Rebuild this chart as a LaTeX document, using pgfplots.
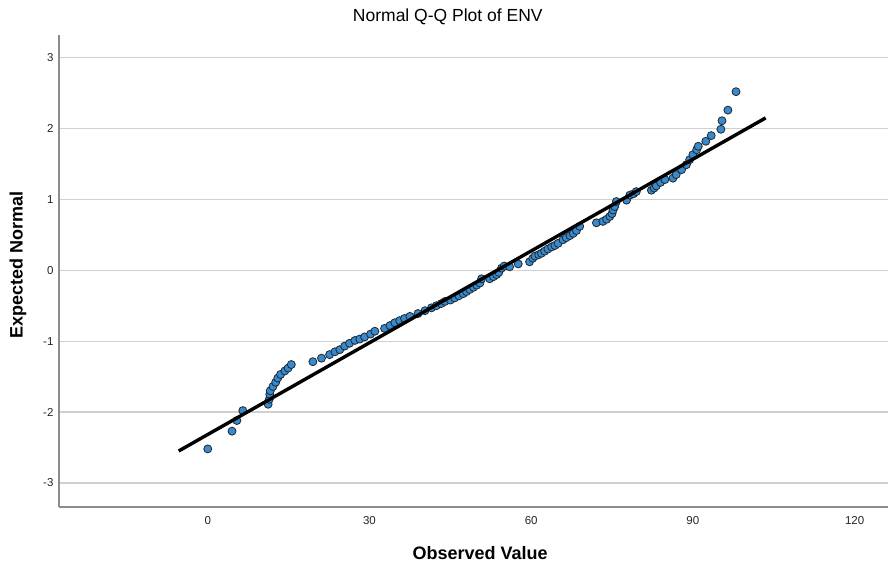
\documentclass[border=0pt]{standalone}
\usepackage{fontspec}
\setmainfont{Liberation Sans}
\usepackage{pgfplots}
\pgfplotsset{compat=1.18}
\definecolor{ptfill}{RGB}{56,138,204}
\definecolor{ptedge}{RGB}{30,38,48}
\definecolor{gridc}{RGB}{208,208,208}
\definecolor{axc}{RGB}{140,140,140}
\begin{document}
\begin{tikzpicture}
\begin{axis}[
  scale only axis,
  width=829pt, height=472pt,
  xmin=-27.6, xmax=126.2,
  ymin=-3.34, ymax=3.32,
  xtick={0,30,60,90,120},
  ytick={-3,-2,-1,0,1,2,3},
  axis x line*=bottom, axis y line*=left,
  axis line style={-, draw=axc, line width=1.4pt},
  major tick length=0pt,
  ymajorgrids,
  grid style={gridc, line width=1.2pt},
  tick label style={font=\fontsize{11.5}{13}\selectfont, text=black!85},
  /pgf/number format/assume math mode=true,
  xticklabel style={yshift=-6pt},
  yticklabel style={xshift=-2pt},
  clip mode=individual,
]
\addplot[only marks, mark=*, mark size=4pt,
  mark options={fill=ptfill, draw=ptedge, line width=0.8pt}] coordinates {
(0,-2.52) (4.5,-2.27) (5.4,-2.12) (6.5,-1.98) (11.2,-1.89) (11.4,-1.82)
(11.5,-1.75) (11.6,-1.70) (12.1,-1.64) (12.6,-1.58) (13.0,-1.52) (13.5,-1.47)
(14.3,-1.42) (14.9,-1.38) (15.5,-1.33) (19.5,-1.29) (21.1,-1.24) (22.6,-1.19)
(23.6,-1.15) (24.5,-1.12) (25.4,-1.07) (26.3,-1.03) (27.3,-0.99) (28.2,-0.97)
(29.1,-0.94) (30.2,-0.90) (31.0,-0.86) (32.8,-0.82) (33.8,-0.78) (34.7,-0.74)
(35.6,-0.71) (36.5,-0.68) (37.5,-0.65) (39.0,-0.61) (40.3,-0.57) (41.5,-0.53)
(42.4,-0.50) (43.3,-0.47) (44.0,-0.44) (45.0,-0.42) (45.8,-0.39) (46.6,-0.36)
(47.4,-0.33) (48.0,-0.30) (48.6,-0.27) (49.3,-0.24) (49.9,-0.21) (50.5,-0.18)
(50.8,-0.12) (52.3,-0.12) (53.0,-0.09) (53.6,-0.06) (54.0,-0.03) (54.5,0.03)
(55.0,0.06) (56.0,0.05) (57.6,0.09) (59.7,0.12) (60.3,0.17) (60.7,0.20)
(61.4,0.22) (61.9,0.24) (62.5,0.27) (63.1,0.30) (63.8,0.33) (64.4,0.35)
(65.0,0.38) (65.9,0.43) (66.5,0.46) (67.2,0.49) (67.8,0.52) (68.4,0.56)
(69.0,0.62) (72.1,0.67) (73.3,0.69) (74.0,0.72) (74.6,0.76) (75.0,0.80)
(75.2,0.85) (75.5,0.90) (75.8,0.97) (77.7,0.99) (78.3,1.06) (79.0,1.08)
(79.5,1.11) (82.3,1.13) (82.8,1.16) (83.2,1.19) (84.0,1.24) (84.8,1.28)
(86.3,1.30) (86.9,1.35) (87.9,1.42) (88.8,1.49) (89.4,1.56) (90.0,1.63)
(90.7,1.70) (91.0,1.75) (92.4,1.82) (93.4,1.90) (95.2,1.99) (95.4,2.11)
(96.5,2.26) (98.0,2.52)
};
\addplot[black, line width=3.4pt] coordinates {(-5.4,-2.55) (103.5,2.15)};
\node[font=\fontsize{17.5}{20}\selectfont] at ([yshift=18pt]axis description cs:0.469,1) {Normal Q-Q Plot of ENV};
\node[font=\fontsize{18}{20}\selectfont\bfseries] at ([yshift=-46pt]axis description cs:0.508,0) {Observed Value};
\node[font=\fontsize{18}{20}\selectfont\bfseries, rotate=90] at ([xshift=-41pt]axis description cs:0,0.512) {Expected Normal};
\end{axis}
\pgfresetboundingbox
\path ([shift={(-59pt,-63pt)}]current axis.south west) rectangle ([shift={(0pt,35pt)}]current axis.north east);
\end{tikzpicture}
\end{document}
